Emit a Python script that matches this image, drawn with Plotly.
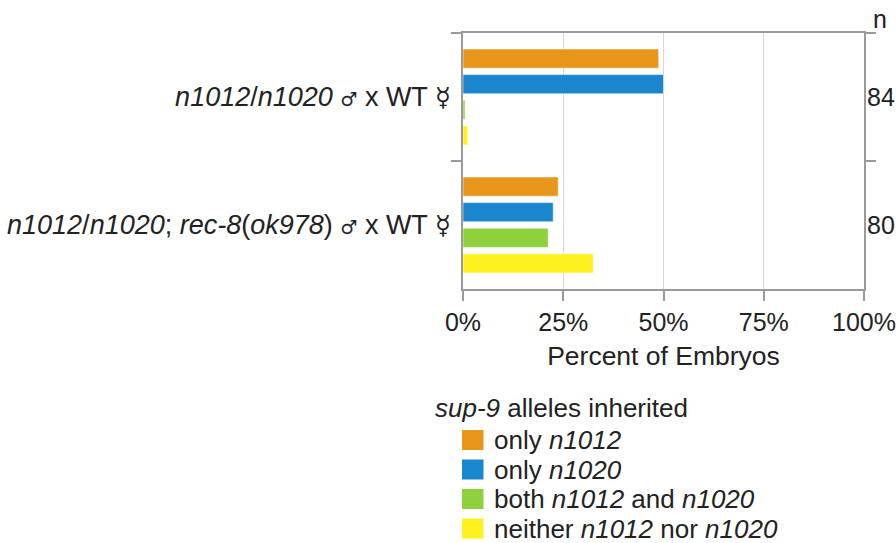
import plotly.graph_objects as go

MALE = "<span style='font-family:DejaVu Sans;font-size:19px'>♂</span>"
HERM = "<span style='font-family:DejaVu Sans;font-size:26px'>☿</span>"

# Crosses (category labels) and number of embryos scored per cross
crosses = [
    f"<i>n1012</i>/<i>n1020</i> {MALE} x WT {HERM}",
    f"<i>n1012</i>/<i>n1020</i>; <i>rec-8</i>(<i>ok978</i>) {MALE} x WT {HERM}",
]
n_embryos = ["84", "80"]

# Percent of embryos inheriting each sup-9 allele combination
series_names = [
    "only <i>n1012</i>",
    "only <i>n1020</i>",
    "both <i>n1012</i> and <i>n1020</i>",
    "neither <i>n1012</i> nor <i>n1020</i>",
]
only_n1012 = [48.8, 23.75]
only_n1020 = [50.0, 22.5]
both = [0.5, 21.25]
neither = [1.19, 32.5]
series_values = [only_n1012, only_n1020, both, neither]
colors = ["#E8961A", "#1A86CE", "#8ED13C", "#FFF11E"]

x_ticks = [0, 25, 50, 75, 100]
x_ticklabels = ["0%", "25%", "50%", "75%", "100%"]

FONT = "Liberation Sans, Arial, DejaVu Sans, sans-serif"
TXT = "#222222"
AX = "#9a9a9a"

W, H = 896, 543
ML, MR, MT, MB = 463, 32, 33, 254
PW, PH = W - ML - MR, H - MT - MB


def px_x(px):
    return (px - ML) / PW


def px_y(py):
    return 1 - (py - MT) / PH


fig = go.Figure()
for name, vals, col in zip(series_names, series_values, colors):
    fig.add_trace(go.Bar(
        y=crosses, x=vals, orientation="h", name=name,
        marker=dict(color=col, line=dict(color="rgba(255,255,255,0.55)", width=1)),
        showlegend=False,
    ))

fig.update_layout(
    width=W, height=H,
    margin=dict(l=ML, r=MR, t=MT, b=MB, autoexpand=False),
    paper_bgcolor="white", plot_bgcolor="white",
    font=dict(family=FONT, size=25, color=TXT),
    barmode="group", bargap=0.2, bargroupgap=0.25,
)

fig.update_xaxes(
    range=[0, 100], tickvals=x_ticks, ticktext=x_ticklabels, automargin=False,
    tickfont=dict(size=25),
    showgrid=True, gridcolor="#d6d6d6", gridwidth=1,
    showline=True, linecolor=AX, linewidth=1.5, mirror=True,
    ticks="outside", ticklen=10, tickcolor=AX, tickwidth=1.5,
    zeroline=False,
    title=dict(text="Percent of Embryos", standoff=12, font=dict(size=26.5)),
)
fig.update_yaxes(
    type="category", categoryarray=crosses, range=[1.5, -0.5], automargin=False,
    tickfont=dict(size=27), ticklabelstandoff=5,
    tickson="boundaries", ticks="outside", ticklen=10, tickcolor=AX, tickwidth=1.5,
    showline=True, linecolor=AX, linewidth=1.5, mirror="ticks",
    showgrid=False, zeroline=False,
)

# Sample sizes on the right-hand side
for cat, n in zip(crosses, n_embryos):
    fig.add_annotation(x=1, xref="paper", y=cat, yref="y", text=n,
                       xanchor="left", yanchor="middle", xshift=1,
                       showarrow=False, font=dict(size=25, color=TXT))
fig.add_annotation(x=px_x(880), xref="paper", y=px_y(19), yref="paper", text="n",
                   xanchor="center", yanchor="middle", showarrow=False,
                   font=dict(size=25, color=TXT))

# Legend drawn as colour swatches with labels
fig.add_annotation(x=px_x(433), xref="paper", y=px_y(408), yref="paper",
                   text="<i>sup-9</i> alleles inherited", xanchor="left", yanchor="middle",
                   showarrow=False, font=dict(size=26, color=TXT))
row_top = 430
row_step = 29.5
for i, (name, col) in enumerate(zip(series_names, colors)):
    y0 = row_top + i * row_step
    fig.add_shape(type="rect", xref="paper", yref="paper",
                  x0=px_x(462), x1=px_x(483.5), y0=px_y(y0), y1=px_y(y0 + 20),
                  fillcolor=col, line=dict(width=0))
    fig.add_annotation(x=px_x(492), xref="paper", y=px_y(y0 + 10), yref="paper",
                       text=name, xanchor="left", yanchor="middle", showarrow=False,
                       font=dict(size=26, color=TXT))

fig.write_html("out.html")
